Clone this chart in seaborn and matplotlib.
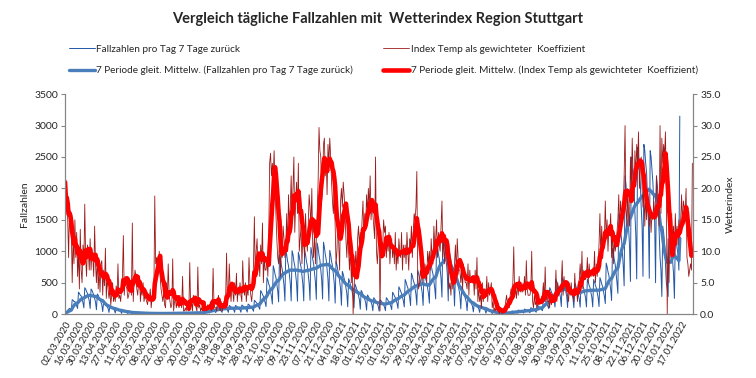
import pandas as pd
import numpy as np
import matplotlib
matplotlib.use("Agg")
import matplotlib.pyplot as plt
import seaborn as sns

start_date = "2020-03-02"

# Fallzahlen pro Tag (7 Tage zurueck), eine Zeile je Woche ab Mo 02.03.2020
fallzahlen = [
    5, 30, 45, 60, 80, 90, 85,
    60, 230, 220, 200, 200, 170, 130,
    90, 350, 330, 300, 290, 240, 180,
    100, 420, 400, 360, 330, 270, 210,
    90, 400, 380, 340, 310, 250, 190,
    70, 320, 300, 260, 240, 190, 150,
    40, 190, 180, 160, 140, 115, 90,
    27, 130, 120, 108, 98, 80, 62,
    18, 87, 80, 72, 66, 54, 42,
    12, 58, 54, 48, 44, 36, 28,
    8, 36, 34, 30, 28, 22, 18,
    6, 29, 27, 24, 22, 18, 14,
    5, 22, 20, 18, 16, 13, 10,
    4, 17, 16, 14, 13, 11, 8,
    3, 15, 14, 12, 11, 9, 7,
    3, 15, 14, 12, 11, 9, 7,
    4, 17, 16, 14, 13, 11, 8,
    4, 18, 16, 15, 13, 11, 8,
    5, 22, 20, 18, 16, 13, 10,
    5, 22, 21, 18, 17, 14, 11,
    6, 29, 27, 24, 22, 18, 14,
    6, 30, 28, 24, 22, 18, 14,
    12, 55, 52, 48, 45, 38, 30,
    18, 85, 80, 72, 66, 55, 42,
    24, 115, 108, 96, 88, 72, 56,
    27, 130, 122, 108, 99, 81, 63,
    28, 138, 128, 114, 104, 85, 66,
    28, 138, 128, 114, 104, 85, 66,
    30, 145, 135, 120, 110, 90, 70,
    33, 160, 150, 132, 121, 99, 77,
    45, 220, 205, 185, 170, 140, 110,
    78, 375, 350, 312, 286, 234, 182,
    120, 580, 540, 480, 440, 360, 280,
    160, 770, 715, 636, 583, 477, 371,
    195, 940, 880, 780, 715, 585, 455,
    210, 1015, 945, 840, 770, 630, 490,
    210, 1010, 950, 840, 770, 630, 490,
    205, 985, 920, 815, 750, 610, 475,
    210, 1015, 945, 840, 770, 630, 490,
    220, 1060, 985, 875, 800, 655, 510,
    235, 1130, 1050, 935, 860, 700, 545,
    240, 1145, 1065, 950, 870, 710, 555,
    210, 1015, 945, 840, 770, 630, 490,
    175, 840, 785, 695, 640, 520, 405,
    140, 680, 635, 565, 515, 425, 330,
    117, 565, 525, 470, 430, 350, 273,
    100, 480, 445, 395, 365, 297, 231,
    78, 377, 350, 312, 286, 234, 182,
    63, 305, 283, 252, 231, 189, 147,
    54, 261, 243, 216, 198, 162, 126,
    48, 232, 216, 192, 176, 144, 112,
    54, 261, 243, 216, 198, 162, 126,
    72, 348, 324, 288, 264, 216, 168,
    90, 435, 405, 360, 330, 270, 210,
    114, 551, 513, 456, 418, 342, 266,
    135, 650, 608, 540, 495, 405, 315,
    144, 696, 648, 576, 528, 432, 336,
    138, 667, 621, 552, 506, 414, 322,
    174, 841, 783, 696, 638, 522, 406,
    240, 1160, 1080, 960, 880, 720, 560,
    270, 1305, 1215, 1080, 990, 810, 630,
    210, 1015, 945, 840, 770, 630, 490,
    129, 624, 580, 516, 473, 387, 301,
    84, 406, 378, 336, 308, 252, 196,
    54, 261, 243, 216, 198, 162, 126,
    36, 174, 162, 144, 132, 108, 84,
    27, 130, 122, 108, 99, 81, 63,
    15, 72, 68, 60, 55, 45, 35,
    8, 36, 34, 30, 28, 22, 18,
    5, 22, 20, 18, 16, 13, 10,
    6, 29, 27, 24, 22, 18, 14,
    10, 51, 47, 42, 38, 32, 25,
    14, 65, 61, 54, 50, 40, 32,
    16, 80, 74, 66, 60, 50, 38,
    21, 102, 95, 84, 77, 63, 49,
    30, 145, 135, 120, 110, 90, 70,
    54, 261, 243, 216, 198, 162, 126,
    87, 420, 392, 348, 319, 261, 203,
    114, 551, 513, 456, 418, 342, 266,
    120, 580, 540, 480, 440, 360, 280,
    105, 508, 473, 420, 385, 315, 245,
    102, 493, 459, 408, 374, 306, 238,
    111, 537, 500, 444, 407, 333, 259,
    114, 551, 513, 456, 418, 342, 266,
    114, 551, 513, 456, 418, 342, 266,
    120, 580, 540, 480, 440, 360, 280,
    168, 812, 756, 672, 616, 504, 392,
    216, 1044, 972, 864, 792, 648, 504,
    330, 1595, 1485, 1320, 1210, 990, 770,
    450, 2200, 2050, 1820, 1680, 1370, 1070,
    520, 2500, 2350, 2100, 1950, 1580, 1250,
    560, 2650, 2500, 2250, 2080, 1700, 1400,
    600, 2700, 2600, 2400, 2250, 1850, 1500,
    570, 2600, 2500, 2300, 2100, 1750, 1480,
    500, 2200, 2050, 1800, 1300, 900, 700,
    280, 1400, 1300, 1100, 800, 500, 400,
    280, 1400, 1300, 1100, 1050, 850, 650,
    250, 1200, 1150, 1050, 950, 700, 3150,
]

# Index Temp als gewichteter Koeffizient, eine Zeile je Woche
wetterindex = [
    21, 16, 18.5, 15, 9, 17, 13,
    14, 5, 12, 8, 15, 9, 13,
    6, 10, 4, 13.5, 7, 5, 11,
    8, 17.5, 9, 6, 11, 10, 7,
    12, 7, 10, 9, 6, 14, 8,
    5, 9, 4, 7, 3.5, 8, 8.5,
    3, 7, 4.5, 10.5, 2.5, 6, 4,
    2.5, 4, 1.5, 3, 5, 2, 3,
    2, 4.5, 3, 8, 2.5, 3, 2,
    4, 6, 12.5, 3, 6, 4.5, 4,
    2.5, 3, 4, 5, 3, 14.5, 2,
    5, 7, 6, 4, 3, 5, 6,
    2, 4, 3, 5, 2, 3, 2.5,
    2, 1.5, 3, 2.5, 4, 1, 2.5,
    2, 3, 18.8, 8, 9, 6, 7,
    10, 6, 4, 3, 2, 3.5, 1.5,
    1, 5, 2.5, 8, 3, 2, 1,
    1.5, 8.8, 0.5, 2, 2.5, 1, 2,
    2, 1, 3, 2, 1, 6, 0.5,
    0.5, 1, 0.5, 2, 1, 0.5, 8.2,
    1, 2, 0.5, 3, 1.5, 2, 1,
    0.5, 7.5, 1, 1.5, 0.5, 1, 0.5,
    1, 0.5, 2, 1, 0.5, 1.5, 1,
    1, 2, 0.5, 1, 7.3, 1.5, 1,
    1, 0.5, 2, 3, 1, 0.5, 2,
    0.5, 1, 2, 1.5, 2.5, 9.7, 2,
    3, 8, 4, 2, 5, 3.5, 2,
    5, 3, 6.5, 2, 4, 3, 5,
    3, 2, 8.5, 4, 3, 5, 2,
    4, 3, 9, 5, 3, 2, 4,
    8, 15.5, 6, 10, 12, 7, 9,
    6, 11, 8, 14.5, 5, 9, 7,
    7, 9, 6, 12, 24, 25.6, 22,
    24, 22, 26, 20, 16, 12, 9,
    8, 13, 6, 10, 9, 14, 12,
    9, 11, 16, 10, 19, 14, 17,
    22, 15, 20, 25, 13, 18, 21,
    16, 24, 10, 12, 14, 8, 13,
    11, 9, 16, 12, 10, 14, 19,
    17, 14, 20, 11, 9, 13, 8,
    12, 16, 21, 29.7, 26, 25, 18,
    20, 27, 28, 22, 25, 19, 27,
    24, 28, 25, 21, 18, 16, 20,
    14, 8, 10, 16, 11, 7, 18,
    20, 17, 21, 19, 16, 12, 9,
    13, 10, 7, 11, 5, 9, 0,
    4, 7, 10, 6, 12, 14, 11,
    13, 11, 15, 18, 12, 16, 14,
    19, 16, 20, 17, 22, 15, 18,
    16, 14, 12, 25, 10, 8, 11,
    12, 0.5, 12, 11, 11, 15, 13,
    14, 9, 12, 10, 13, 8, 11,
    12, 9, 11, 8, 13, 7, 10,
    8, 12, 10, 9, 13, 7, 11,
    9, 11, 8, 13, 10, 7, 12,
    11, 14, 9, 13, 16, 15, 17,
    22.7, 6, 4, 5, 7, 6, 5,
    9, 6, 8, 7, 5, 10, 8,
    10, 7, 12, 9, 8, 14, 11,
    12, 15, 9, 13, 11, 10, 14,
    18, 9, 12, 8, 11, 10, 9,
    6, 4, 5, 3, 7, 4, 6,
    8, 11, 6, 12, 9, 7, 7,
    5, 7, 4, 8, 6, 5, 5,
    4, 8, 3, 7, 5, 6, 6,
    6, 3, 7, 4, 9, 2, 4,
    2, 3, 1, 5, 2, 4, 4,
    3, 6, 2, 5, 3, 4, 5,
    1, 2, 0.5, 1, 0.5, 1, 1,
    0.5, 0, 1, 0.5, 0, 0.5, 1,
    1, 2, 3, 1.5, 2.5, 1, 3,
    4, 3, 5, 10.7, 3, 4, 2.5,
    5, 3, 6, 4, 3.5, 5, 3.5,
    4, 6, 3, 8.5, 4, 3, 3,
    3, 4, 10, 2, 1, 3, 1.5,
    2, 1, 3, 1.5, 2.5, 2, 2,
    3, 5, 2, 7.5, 2, 3, 2,
    2, 1, 3, 1.5, 2.5, 3, 2.5,
    3, 7, 2, 5, 3, 4, 4,
    5, 8.5, 3, 6, 4, 5, 3.5,
    3, 2, 4, 3, 5, 3, 3,
    2, 6.5, 3, 4, 2, 5, 5.5,
    8, 5, 10, 4, 7, 6, 5.5,
    6, 9, 5, 8, 6, 7, 6,
    7, 6, 10, 5, 8, 6, 8,
    11, 16, 9, 14, 10, 12, 12,
    18, 12, 15, 10, 14, 13, 16,
    9, 14, 8, 12, 10, 11, 13,
    15, 19, 13, 18, 16, 17, 17,
    22, 30, 17, 14, 20, 16, 14,
    25, 20, 28, 22, 18, 26, 22,
    27, 24, 29, 20, 23, 25, 20,
    17, 20, 14, 19, 15, 18, 16,
    14, 17, 13, 16, 15, 18, 15,
    16, 22, 18, 17, 14, 30, 16,
    28, 24, 27, 25, 29, 20, 0,
    12, 5, 14, 9, 16, 10, 14,
    10, 16, 12, 14, 11, 15, 13,
    15, 19, 14, 18, 17, 16, 20,
    9, 8, 6, 7, 8, 7, 24,
]

label_f = "Fallzahlen pro Tag 7 Tage zurück"
label_w = "Index Temp als gewichteter  Koeffizient"

df_f = pd.DataFrame({"datum": pd.date_range(start_date, periods=len(fallzahlen)),
                     "wert": fallzahlen})
df_f["mittel"] = df_f["wert"].rolling(7, min_periods=1).mean()
df_w = pd.DataFrame({"datum": pd.date_range(start_date, periods=len(wetterindex)),
                     "wert": wetterindex})
df_w["mittel"] = df_w["wert"].rolling(7, min_periods=1).mean()

sns.set_style("white")
plt.rcParams['font.family'] = ['Lato', 'DejaVu Sans']

fig = plt.figure(figsize=(7.56, 3.78), dpi=100)
ax = fig.add_axes([0.086, 0.169, 0.831, 0.582])
ax2 = ax.twinx()

sns.lineplot(data=df_f, x="datum", y="wert", ax=ax, color="#2457A6", lw=0.7)
sns.lineplot(data=df_f, x="datum", y="mittel", ax=ax, color="#4A7EBB", lw=2.4)
sns.lineplot(data=df_w, x="datum", y="wert", ax=ax2, color="#9C1A1A", lw=0.6)
sns.lineplot(data=df_w, x="datum", y="mittel", ax=ax2, color="#FF0000", lw=3.3)

# x axis: every 14 days
ticks = pd.date_range(start_date, periods=51, freq="14D")
ax.set_xlim(ticks[0], ticks[-1])
ax.set_xticks(ticks)
ax.set_xticklabels([d.strftime("%d.%m.%Y") for d in ticks[:-1]] + [""],
                   rotation=60, ha="right", rotation_mode="anchor", fontsize=7)

ax.set_ylim(0, 3500)
ax.set_yticks(np.arange(0, 3501, 500))
ax.set_yticklabels([str(v) for v in range(0, 3501, 500)], fontsize=7.5)
ax2.set_ylim(0, 35)
ax2.set_yticks(np.arange(0, 35.1, 5))
ax2.set_yticklabels([f"{v:.1f}" for v in np.arange(0, 35.1, 5)], fontsize=7.5)

ax.set_xlabel("")
ax.set_ylabel("Fallzahlen", fontsize=7.5)
ax2.set_ylabel("Wetterindex", fontsize=7.5)

for a in (ax, ax2):
    a.spines["top"].set_visible(False)
    for s in a.spines.values():
        s.set_color("#868686")
        s.set_linewidth(0.8)
    a.tick_params(direction="out", length=3, width=0.8, color="#868686", pad=2)
ax.tick_params(axis="x", pad=1)

fig.suptitle("Vergleich tägliche Fallzahlen mit  Wetterindex Region Stuttgart",
             fontsize=10.5, fontweight="bold", y=0.968)

handles = ax.get_lines()[:2] + ax2.get_lines()[:2]
labels = [label_f, f"7 Periode gleit. Mittelw. ({label_f})",
          label_w, f"7 Periode gleit. Mittelw. ({label_w})"]
fig.legend(handles, labels, ncol=2, loc="upper center", bbox_to_anchor=(0.507, 0.905),
           frameon=False, fontsize=7.2, handlelength=2.6, handletextpad=0.15,
           columnspacing=3.0, labelspacing=1.2)

plt.savefig("out.png", dpi=100)
